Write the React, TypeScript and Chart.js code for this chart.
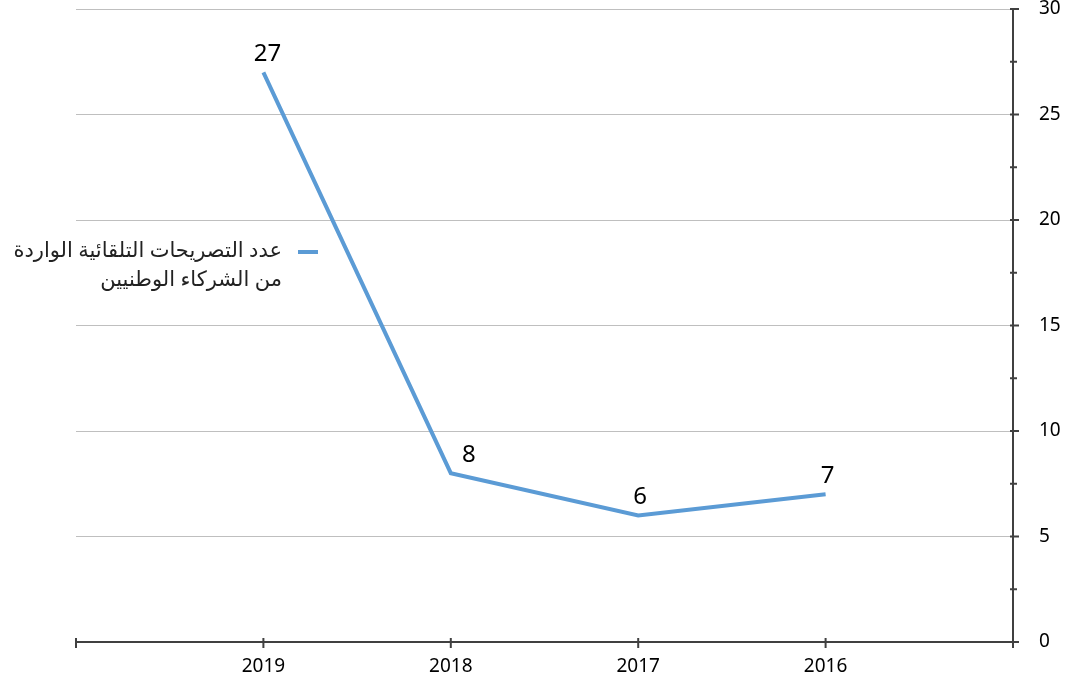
import React, { useEffect, useRef } from "react";
import { Chart, registerables } from "chart.js";

Chart.register(...registerables);

const categories = ["2019", "2018", "2017", "2016"];
const values = [27, 8, 6, 7];
const legendLines = ["عدد التصريحات التلقائية الواردة", "من الشركاء الوطنيين"];
const yMin = 0;
const yMax = 30;
const yMajorStep = 5;
const yMinorStep = 2.5;

const FONT = "'Noto Sans', 'Open Sans', 'DejaVu Sans', sans-serif";
const LINE_COLOR = "#5B9BD5";
const AXIS_COLOR = "#404040";

const paddedLabels = ["", ...categories, ""];
const paddedValues: (number | null)[] = [null, ...values, null];
const labelDx = [0, 4, 18, 2, 2, 0];

const customPlugin = {
  id: "custom",
  afterDraw(chart: any) {
    const ctx = chart.ctx;
    const x = chart.scales.x;
    const y = chart.scales.y;
    ctx.save();
    ctx.strokeStyle = AXIS_COLOR;
    ctx.lineWidth = 2;
    const bottom = y.getPixelForValue(0);
    for (let i = 0; i < paddedLabels.length; i++) {
      const px = x.getPixelForValue(i);
      ctx.beginPath();
      ctx.moveTo(px, bottom - 4);
      ctx.lineTo(px, bottom + 6);
      ctx.stroke();
    }
    const ax = chart.chartArea.right;
    for (let v = yMin; v <= yMax + 1e-6; v += yMinorStep) {
      const py = y.getPixelForValue(v);
      const major = Math.abs(v % yMajorStep) < 1e-6;
      ctx.beginPath();
      ctx.moveTo(ax - 3, py);
      ctx.lineTo(ax + (major ? 6 : 4), py);
      ctx.stroke();
    }
    const meta = chart.getDatasetMeta(0);
    ctx.fillStyle = "#000";
    ctx.font = `24px ${FONT}`;
    ctx.textAlign = "center";
    ctx.textBaseline = "middle";
    meta.data.forEach((pt: any, i: number) => {
      const v = paddedValues[i];
      if (v == null) return;
      ctx.fillText(String(v), pt.x + labelDx[i], pt.y - 18);
    });
    ctx.strokeStyle = LINE_COLOR;
    ctx.lineWidth = 4;
    ctx.beginPath();
    ctx.moveTo(298, 252);
    ctx.lineTo(318, 252);
    ctx.stroke();
    ctx.fillStyle = "#222";
    ctx.font = `21px ${FONT}`;
    ctx.textAlign = "right";
    ctx.direction = "rtl";
    ctx.fillText(legendLines[0], 282, 251);
    ctx.fillText(legendLines[1], 282, 280);
    ctx.restore();
  },
};

export default function App() {
  const ref = useRef<HTMLCanvasElement>(null);
  useEffect(() => {
    document.body.style.margin = "0";
    const chart = new Chart(ref.current!, {
      type: "line",
      data: {
        labels: paddedLabels,
        datasets: [
          {
            data: paddedValues,
            borderColor: LINE_COLOR,
            borderWidth: 4,
            pointRadius: 0,
            tension: 0,
            fill: false,
          },
        ],
      },
      options: {
        animation: false,
        responsive: false,
        layout: { padding: { left: 76, top: 9, right: 0, bottom: 0 } },
        plugins: { legend: { display: false }, tooltip: { enabled: false } },
        scales: {
          x: {
            type: "category",
            offset: false,
            grid: { display: false, drawTicks: false },
            border: { display: true, color: AXIS_COLOR, width: 2 },
            ticks: {
              autoSkip: false,
              maxRotation: 0,
              color: "#000",
              font: { size: 19, family: FONT },
              padding: 13,
            },
            afterFit: (s: any) => {
              s.height = 43;
              s.paddingLeft = 0;
              s.paddingRight = 0;
            },
          },
          y: {
            position: "right",
            min: yMin,
            max: yMax,
            grid: {
              drawTicks: false,
              color: (c: any) =>
                Math.abs(c.tick.value % yMajorStep) < 1e-6 ? "#bfbfbf" : "rgba(0,0,0,0)",
              lineWidth: 1,
            },
            border: { display: true, color: AXIS_COLOR, width: 2 },
            ticks: {
              stepSize: yMinorStep,
              color: "#000",
              font: { size: 19, family: FONT },
              padding: 26,
              callback: (v: any) => (Math.abs(v % yMajorStep) < 1e-6 ? String(v) : ""),
            },
            afterFit: (s: any) => {
              s.width = 53;
              s.paddingTop = 0;
              s.paddingBottom = 0;
            },
          },
        },
      },
      plugins: [customPlugin],
    });
    return () => chart.destroy();
  }, []);
  return <canvas ref={ref} width={1066} height={685} style={{ display: "block" }} />;
}
